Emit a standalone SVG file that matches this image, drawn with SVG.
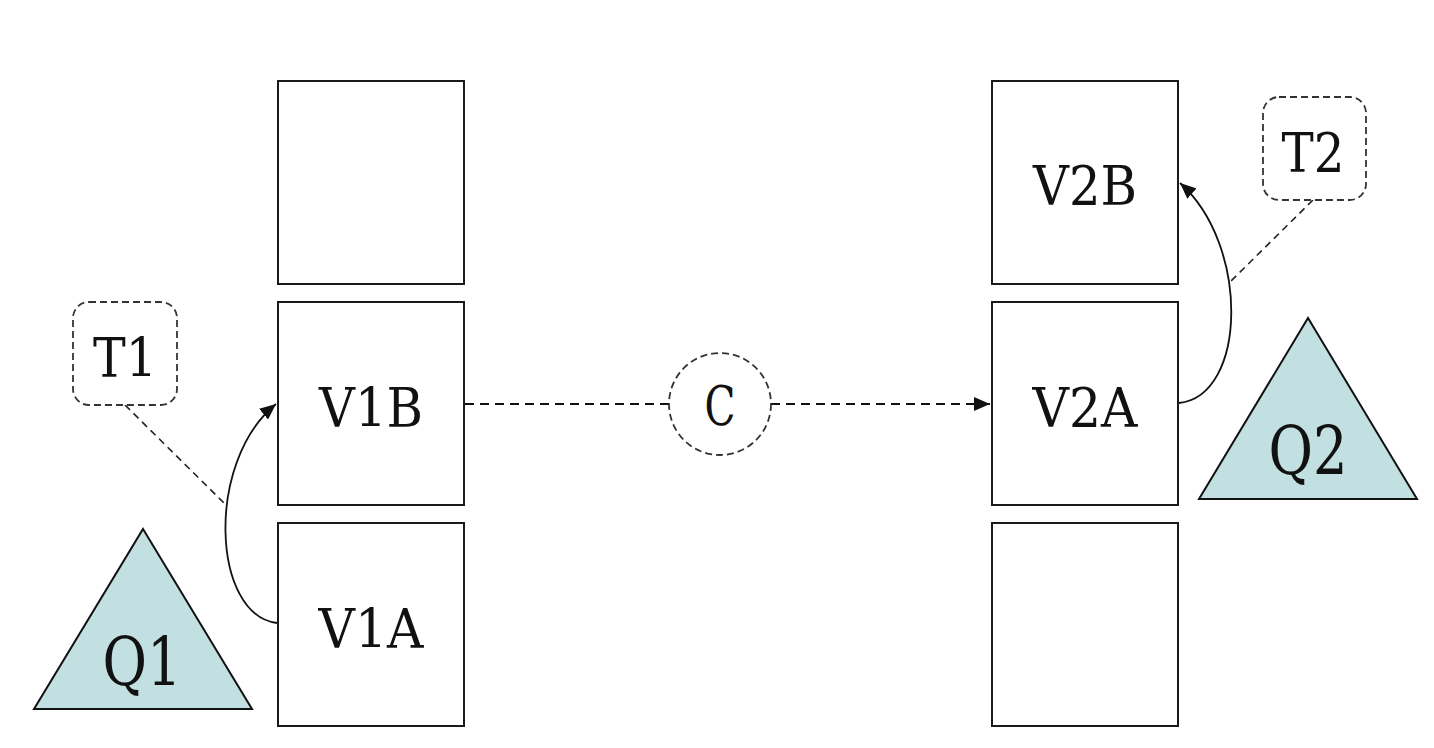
<svg xmlns="http://www.w3.org/2000/svg" width="1434" height="748" viewBox="0 0 1434 748">
<style>
.box{fill:#fff;stroke:#1a1a1a;stroke-width:2}
.tag{fill:#fff;stroke:#333;stroke-width:1.8;stroke-dasharray:7 4}
.tri{fill:#c2dfe1;stroke:#111;stroke-width:2}
.lbl{font-family:"DejaVu Serif","Liberation Serif",serif;font-size:54px;fill:#111;text-anchor:middle}
.big{font-size:68px}
.dash{fill:none;stroke:#111;stroke-width:2;stroke-dasharray:9 6}
.tline{fill:none;stroke:#222;stroke-width:1.6;stroke-dasharray:7 5}
.curve{fill:none;stroke:#111;stroke-width:1.8}
</style>
<defs>
<marker id="ah" viewBox="0 0 16 14" refX="16" refY="7" markerWidth="16" markerHeight="14" markerUnits="userSpaceOnUse" orient="auto">
<path d="M0,0 L16,7 L0,14 Z" fill="#111"/>
</marker>
</defs>
<rect width="1434" height="748" fill="#fff"/>
<g id="connectors">
<path class="dash" d="M465,404 H669"/>
<path class="dash" d="M771,404 H990" marker-end="url(#ah)"/>
<path class="curve" d="M277,623 C212,615 205,462 276,404" marker-end="url(#ah)"/>
<path class="curve" d="M1179,403 C1247,396 1250,245 1180,183" marker-end="url(#ah)"/>
<path class="tline" d="M125,405 L226,505"/>
<path class="tline" d="M1313,200 L1230,282"/>
</g>
<g id="box-top-left"><rect class="box" x="278" y="81" width="186" height="203"/></g>
<g id="V1B"><rect class="box" x="278" y="302" width="186" height="203"/><text class="lbl" x="371" y="427" textLength="104" lengthAdjust="spacingAndGlyphs">V1B</text></g>
<g id="V1A"><rect class="box" x="278" y="523" width="186" height="203"/><text class="lbl" x="371" y="648" textLength="105" lengthAdjust="spacingAndGlyphs">V1A</text></g>
<g id="V2B"><rect class="box" x="992" y="81" width="186" height="203"/><text class="lbl" x="1085" y="205" textLength="104" lengthAdjust="spacingAndGlyphs">V2B</text></g>
<g id="V2A"><rect class="box" x="992" y="302" width="186" height="203"/><text class="lbl" x="1085" y="427" textLength="105" lengthAdjust="spacingAndGlyphs">V2A</text></g>
<g id="box-bottom-right"><rect class="box" x="992" y="523" width="186" height="203"/></g>
<g id="C"><circle cx="720" cy="404" r="51" class="tag"/><text class="lbl" x="720" y="425" textLength="31" lengthAdjust="spacingAndGlyphs">C</text></g>
<g id="T1"><rect class="tag" x="73" y="302" width="104" height="103" rx="16"/><text class="lbl" x="125" y="377" textLength="64" lengthAdjust="spacingAndGlyphs">T1</text></g>
<g id="T2"><rect class="tag" x="1263" y="97" width="103" height="103" rx="16"/><text class="lbl" x="1313" y="172" textLength="63" lengthAdjust="spacingAndGlyphs">T2</text></g>
<g id="Q1"><polygon class="tri" points="143,529 252,709 34,709"/><text class="lbl big" x="142" y="685" textLength="79" lengthAdjust="spacingAndGlyphs">Q1</text></g>
<g id="Q2"><polygon class="tri" points="1308,318 1417,499 1199,499"/><text class="lbl big" x="1308" y="474" textLength="79" lengthAdjust="spacingAndGlyphs">Q2</text></g>
</svg>
